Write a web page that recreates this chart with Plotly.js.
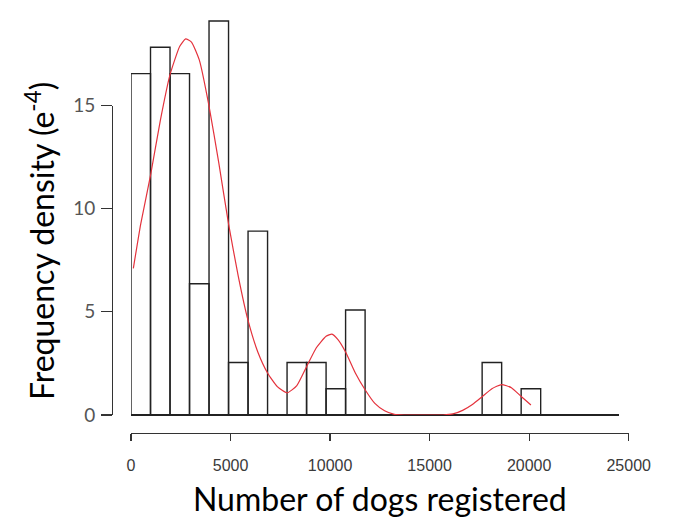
<!DOCTYPE html>
<html>
<head>
<meta charset="utf-8">
<script src="https://cdn.plot.ly/plotly-3.0.1.min.js"></script>
<style>html,body{margin:0;padding:0;background:#fff;}#chart{width:685px;height:529px;}</style>
</head>
<body>
<div id="chart"></div>
<script>
// Histogram bins (number of dogs registered), width 1000
const binStarts = [0,1000,2000,3000,4000,5000,6000,7000,8000,9000,10000,11000,12000,13000,14000,15000,16000,17000,18000,19000,20000,21000,22000,23000,24000];
// Frequency density (e-4 units as labelled)
const densities = [16.25,17.5,16.25,6.25,18.75,2.5,8.75,0,2.5,2.5,1.25,5,0,0,0,0,0,0,2.5,0,1.25,0,0,0,0];
// Kernel density curve
const kdeX = [120,500,1000,1500,2000,2500,2800,3100,3500,4000,4500,5000,5500,6000,6500,7000,7500,8000,8500,9000,9500,10000,10300,10600,11000,11500,12000,12500,13000,13500,14000,16000,16500,17000,17500,18000,18500,19000,19500,20000,20500];
const kdeY = [6.98,9.1,11.4,14.0,16.2,17.55,17.9,17.75,16.9,14.7,12.0,9.1,6.6,4.5,3.0,2.0,1.35,1.05,1.4,2.3,3.2,3.75,3.85,3.6,3.0,2.0,1.2,0.55,0.2,0.03,0,0,0.05,0.22,0.5,0.87,1.25,1.45,1.3,0.88,0.48];
// Axis tick values
const xTicks = [0,5000,10000,15000,20000,25000];
const yTicks = [0,5,10,15];

const traces = [
  {
    type: 'bar', x: binStarts, y: densities, width: 1000, offset: 0,
    marker: {color: 'rgba(255,255,255,0)', line: {color: '#222', width: 1.4}},
    xaxis: 'x', yaxis: 'y', hoverinfo: 'skip', showlegend: false
  },
  {
    type: 'scatter', mode: 'lines', x: kdeX, y: kdeY,
    line: {color: 'rgb(228,50,60)', width: 1.2, shape: 'spline', smoothing: 0.5},
    xaxis: 'x', yaxis: 'y', hoverinfo: 'skip', showlegend: false
  },
  {
    type: 'scatter', mode: 'markers', x: [], y: [],
    xaxis: 'x2', yaxis: 'y2', hoverinfo: 'skip', showlegend: false
  }
];

const L = 112, R = 640, T = 15, B = 433;
const W = R - L, H = B - T;
const px2x = p => (p - L) / W;
const px2y = p => (B - p) / H;

const layout = {
  width: 685, height: 529,
  margin: {l: L, r: 685 - R, t: T, b: 529 - B, pad: 0},
  paper_bgcolor: '#fff', plot_bgcolor: 'rgba(0,0,0,0)',
  bargap: 0,
  xaxis: {
    domain: [px2x(131), px2x(618.7)], range: [0, 25000],
    showticklabels: false, ticks: '', showgrid: false, zeroline: false, showline: false,
    anchor: 'y', fixedrange: true
  },
  yaxis: {
    domain: [px2y(415), 1], range: [0, (415 - T) / 21.01],
    showticklabels: false, ticks: '', showgrid: false, showline: false,
    zeroline: true, zerolinecolor: '#222', zerolinewidth: 1.4,
    anchor: 'x', fixedrange: true
  },
  xaxis2: {
    domain: [px2x(131), px2x(628.7)], range: [0, 25000],
    anchor: 'free', position: 0,
    tickmode: 'array', tickvals: xTicks, ticktext: xTicks.map(String),
    ticks: 'outside', ticklen: 7, tickwidth: 1.3, tickcolor: '#333',
    showline: true, linecolor: '#333', linewidth: 1.3,
    showgrid: false, zeroline: false,
    tickfont: {family: 'Liberation Sans, Arial, sans-serif', size: 16, color: '#3a3a3a'},
    ticklabelstandoff: 10,
    title: {text: 'Number of dogs registered', font: {family: 'Lato, sans-serif', size: 32, color: '#000'}, standoff: 16},
    automargin: false
  },
  yaxis2: {
    domain: [px2y(415), px2y(105.5)], range: [0, 15],
    anchor: 'free', position: 0,
    tickmode: 'array', tickvals: yTicks, ticktext: yTicks.map(String),
    ticks: 'outside', ticklen: 11, tickwidth: 1.3, tickcolor: '#333',
    showline: true, linecolor: '#333', linewidth: 1.3,
    showgrid: false, zeroline: false,
    tickfont: {family: 'Lato, sans-serif', size: 19, color: '#555'},
    ticklabelstandoff: 2,
    automargin: false
  },
  annotations: [{
    text: 'Frequency density (e<sup>-4</sup>)',
    xref: 'paper', yref: 'paper', x: px2x(40), y: px2y(241),
    xanchor: 'center', yanchor: 'middle', textangle: -90, showarrow: false,
    font: {family: 'Lato, sans-serif', size: 32, color: '#000'}
  }]
};

Plotly.newPlot('chart', traces, layout, {staticPlot: true, displayModeBar: false});
</script>
</body>
</html>
